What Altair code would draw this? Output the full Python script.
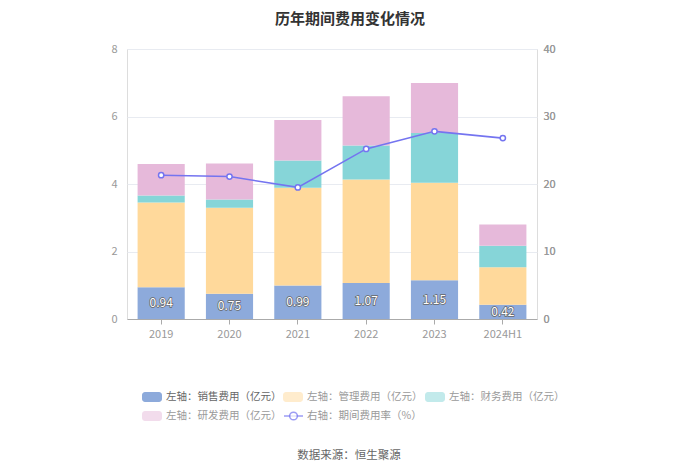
import altair as alt
import pandas as pd

years = ["2019", "2020", "2021", "2022", "2023", "2024H1"]
sales = [0.94, 0.75, 0.99, 1.07, 1.15, 0.42]
admin = [2.51, 2.55, 2.90, 3.06, 2.89, 1.11]
finance = [0.21, 0.24, 0.81, 1.01, 1.47, 0.64]
rnd = [0.93, 1.07, 1.20, 1.46, 1.48, 0.63]
rate = [21.3, 21.1, 19.5, 25.2, 27.8, 26.8]

series_names = ["左轴：销售费用（亿元）", "左轴：管理费用（亿元）", "左轴：财务费用（亿元）", "左轴：研发费用（亿元）"]
line_name = "右轴：期间费用率（%）"
title_text = "历年期间费用变化情况"
source_text = "数据来源：恒生聚源"

colors = ["#8DAADB", "#FFD99B", "#86D5D8", "#E6B9DA"]
line_color = "#7474F0"
FONT = "Noto Sans CJK SC"

rows = []
for si, (name, vals) in enumerate(zip(series_names, [sales, admin, finance, rnd])):
    for y, v in zip(years, vals):
        rows.append({"year": y, "series": name, "value": v, "ord": si})
bar_df = pd.DataFrame(rows)
label_df = pd.DataFrame({"year": years, "sales": sales, "mid": [s / 2 for s in sales],
                         "lbl": [f"{s:.2f}" for s in sales]})
line_df = pd.DataFrame({"year": years, "rate": rate})

xenc = alt.X("year:N", sort=years,
             scale=alt.Scale(paddingInner=0.31, paddingOuter=0.155),
             axis=alt.Axis(title=None, labelAngle=0, labelColor="#999999", domainColor="#AAAAAA",
                           tickColor="#AAAAAA", tickSize=5, labelFontSize=11, labelPadding=4,
                           labelFont=FONT))

bars = alt.Chart(bar_df).mark_bar().encode(
    x=xenc,
    y=alt.Y("value:Q", stack="zero", scale=alt.Scale(domain=[0, 8]),
            axis=alt.Axis(values=[0, 2, 4, 6, 8], title=None, grid=True, domain=False, ticks=False,
                          labelColor="#999999", gridColor="#E8EBF1", labelPadding=10,
                          labelFontSize=11, labelFont=FONT)),
    color=alt.Color("series:N", scale=alt.Scale(domain=series_names, range=colors), legend=None),
    order=alt.Order("ord:Q"),
)

lab_y = alt.Y("mid:Q", scale=alt.Scale(domain=[0, 8]), axis=None)
labels_bg = alt.Chart(label_df).mark_text(fontSize=12, font=FONT, stroke="#666666", strokeWidth=1.4,
                                           fill="#666666").encode(x=alt.X("year:N", sort=years), y=lab_y, text="lbl:N")
labels_fg = alt.Chart(label_df).mark_text(fontSize=12, font=FONT, fill="white").encode(
    x=alt.X("year:N", sort=years), y=lab_y, text="lbl:N")

ry = alt.Y("rate:Q", scale=alt.Scale(domain=[0, 40]),
           axis=alt.Axis(orient="right", values=[0, 10, 20, 30, 40], title=None, grid=False,
                         domain=False, ticks=False, labelColor="#999999", labelPadding=6,
                         labelFontSize=11, labelFont=FONT))
line = alt.Chart(line_df).mark_line(color=line_color, strokeWidth=1.6).encode(
    x=alt.X("year:N", sort=years), y=ry)
pts = alt.Chart(line_df).mark_point(filled=True, fill="white", stroke=line_color, strokeWidth=1.5,
                                    size=28, opacity=1).encode(x=alt.X("year:N", sort=years), y=ry)

one = pd.DataFrame({"k": [0]})
extra = []
extra.append(alt.Chart(one).mark_text(fontSize=15, fontWeight="bold", font=FONT, color="#333333",
                                      align="center", baseline="top").encode(
    x=alt.value(223), y=alt.value(-37), text=alt.value(title_text)))
extra.append(alt.Chart(one).mark_text(fontSize=11.5, font=FONT, color="#666666",
                                      align="center", baseline="middle").encode(
    x=alt.value(222), y=alt.value(407), text=alt.value(source_text)))

row_y = [348, 367]
col_x = [15, 156, 298]
legend_items = [(n, c, "swatch") for n, c in zip(series_names, colors)] + [(line_name, line_color, "line")]
for i, (name, col, kind) in enumerate(legend_items):
    r, cidx = divmod(i, 3)
    lx, ly = col_x[cidx], row_y[r]
    op = 1.0 if i == 0 else 0.5
    if kind == "swatch":
        extra.append(alt.Chart(one).mark_rect(color=col, opacity=op, cornerRadius=3).encode(
            x=alt.value(lx), x2=alt.value(lx + 20), y=alt.value(ly - 5), y2=alt.value(ly + 5)))
    else:
        extra.append(alt.Chart(one).mark_rule(color=col, strokeWidth=1.5, opacity=0.7).encode(
            x=alt.value(lx + 1), x2=alt.value(lx + 20), y=alt.value(ly)))
        extra.append(alt.Chart(one).mark_point(filled=True, fill="white", stroke=col, strokeWidth=1.5,
                                               size=60, opacity=0.7).encode(
            x=alt.value(lx + 10.5), y=alt.value(ly)))
    extra.append(alt.Chart(one).mark_text(fontSize=10.5, font=FONT, color="#666666" if i == 0 else "#9A9A9A",
                                          align="left", baseline="middle").encode(
        x=alt.value(lx + 24), y=alt.value(ly), text=alt.value(name)))

chart = alt.layer(bars, labels_bg, labels_fg, line, pts, *extra).resolve_scale(
    y="independent"
).properties(
    width=410, height=270,
    autosize=alt.AutoSizeParams(type="none"),
    padding={"left": 119, "top": 41, "right": 155, "bottom": 146},
).configure_view(stroke=None).configure(font=FONT, background="white")

chart.save("out.html", embed_options={"renderer": "svg", "actions": False})
